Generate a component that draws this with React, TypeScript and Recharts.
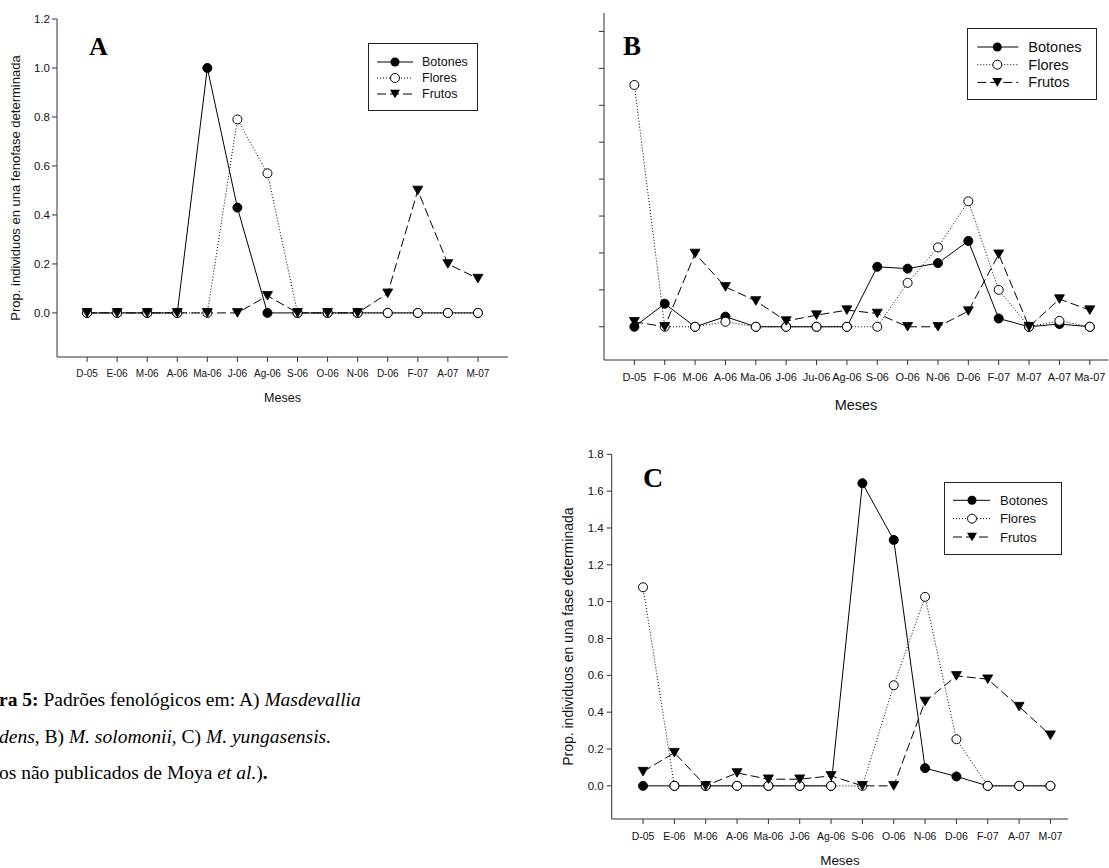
import React from 'react';
import { LineChart, Line, XAxis, YAxis, Legend } from 'recharts';

// Panel A - M. ... (fenofase)
const mesesA = ['D-05', 'E-06', 'M-06', 'A-06', 'Ma-06', 'J-06', 'Ag-06', 'S-06', 'O-06', 'N-06', 'D-06', 'F-07', 'A-07', 'M-07'];
const botonesA = [0, 0, 0, 0, 1.0, 0.43, 0, 0, 0, 0, 0, 0, 0, 0];
const floresA = [0, 0, 0, 0, 0, 0.79, 0.57, 0, 0, 0, 0, 0, 0, 0];
const frutosA = [0, 0, 0, 0, 0, 0, 0.07, 0, 0, 0, 0.08, 0.5, 0.2, 0.14];
const ticksA = [0, 0.2, 0.4, 0.6, 0.8, 1.0, 1.2];

// Panel B - M. solomonii
const mesesB = ['D-05', 'F-06', 'M-06', 'A-06', 'Ma-06', 'J-06', 'Ju-06', 'Ag-06', 'S-06', 'O-06', 'N-06', 'D-06', 'F-07', 'M-07', 'A-07', 'Ma-07'];
const botonesB = [0, 0.125, 0, 0.055, 0, 0, 0, 0, 0.325, 0.315, 0.345, 0.465, 0.045, 0, 0.015, 0];
const floresB = [1.31, 0, 0, 0.027, 0, 0, 0, 0, 0, 0.238, 0.43, 0.68, 0.2, 0, 0.032, 0];
const frutosB = [0.027, 0, 0.397, 0.216, 0.14, 0.031, 0.063, 0.09, 0.072, 0, 0, 0.085, 0.393, 0, 0.15, 0.09];
const ticksB = [0, 0.2, 0.4, 0.6, 0.8, 1.0, 1.2, 1.4, 1.6];

// Panel C - M. yungasensis
const mesesC = ['D-05', 'E-06', 'M-06', 'A-06', 'Ma-06', 'J-06', 'Ag-06', 'S-06', 'O-06', 'N-06', 'D-06', 'F-07', 'A-07', 'M-07'];
const botonesC = [0, 0, 0, 0, 0, 0, 0, 1.643, 1.335, 0.096, 0.051, 0, 0, 0];
const floresC = [1.078, 0, 0, 0, 0, 0, 0, 0, 0.546, 1.026, 0.253, 0, 0, 0];
const frutosC = [0.077, 0.18, 0, 0.07, 0.036, 0.036, 0.054, 0, 0, 0.458, 0.597, 0.579, 0.43, 0.275];
const ticksC = [0, 0.2, 0.4, 0.6, 0.8, 1.0, 1.2, 1.4, 1.6, 1.8];

const SANS = '"Liberation Sans", Arial, sans-serif';
const SERIF = '"Liberation Serif", "Times New Roman", serif';
const INK = '#111';

const buildData = (meses: string[], b: number[], f: number[], fr: number[]) =>
  meses.map((m, i) => ({ x: i + 1, mes: m, botones: b[i], flores: f[i], frutos: fr[i] }));

const tri = (cx: number, cy: number) => `M${cx - 5},${cy - 4.3}L${cx + 5},${cy - 4.3}L${cx},${cy + 4.3}Z`;

const filledDot = (p: any) =>
  p.cx == null ? null : <circle key={`b-${p.index}`} cx={p.cx} cy={p.cy} r={4.5} fill="#000" stroke="#000" strokeWidth={1} />;
const openDot = (p: any) =>
  p.cx == null ? null : <circle key={`f-${p.index}`} cx={p.cx} cy={p.cy} r={4.5} fill="#fff" stroke="#000" strokeWidth={1} />;
const triDot = (p: any) =>
  p.cx == null ? null : <path key={`t-${p.index}`} d={tri(p.cx, p.cy)} fill="#000" stroke="#000" strokeWidth={0.8} />;

const series = [
  { key: 'botones', name: 'Botones', dash: undefined, dot: filledDot },
  { key: 'flores', name: 'Flores', dash: '1 2', dot: openDot },
  { key: 'frutos', name: 'Frutos', dash: '9 4', dot: triDot },
];

type LegendCfg = {
  left: number; top: number; w: number; h: number;
  rows: number[]; x1: number; x2: number; mx: number; tx: number; fontSize: number;
};

const legendBox = (c: LegendCfg) => () => (
  <svg width={c.w} height={c.h} style={{ display: 'block' }}>
    <rect x={0.5} y={0.5} width={c.w - 1} height={c.h - 1} fill="#fff" stroke="#222" strokeWidth={1} />
    {series.map((s, i) => {
      const y = c.rows[i];
      return (
        <g key={s.key}>
          <line x1={c.x1} x2={c.x2} y1={y} y2={y} stroke="#000" strokeWidth={1} strokeDasharray={s.dash} />
          {s.key === 'botones' && <circle cx={c.mx} cy={y} r={4.5} fill="#000" />}
          {s.key === 'flores' && <circle cx={c.mx} cy={y} r={4.5} fill="#fff" stroke="#000" />}
          {s.key === 'frutos' && <path d={tri(c.mx, y)} fill="#000" />}
          <text x={c.tx} y={y} dominantBaseline="central" fontSize={c.fontSize} fontFamily={SANS} fill={INK}>
            {s.name}
          </text>
        </g>
      );
    })}
  </svg>
);

type PanelProps = {
  data: any[];
  meses: string[];
  left: number; top: number; width: number; height: number;
  margin: { top: number; right: number; bottom: number; left: number };
  yAxisWidth: number; xAxisHeight: number;
  yDomain: [number, number]; yTicks: number[]; showYTickLabels: boolean;
  xMax: number;
  yLabel?: string; yLabelOffset?: number; yLabelSize?: number;
  xTickSize: number; xTickMargin: number; yTickSize: number; yTickMargin: number;
  mesesSize: number; mesesOffset: number;
  legend: LegendCfg;
};

const Panel = (p: PanelProps) => (
  <div style={{ position: 'absolute', left: p.left, top: p.top }}>
    <LineChart width={p.width} height={p.height} data={p.data} margin={p.margin}>
      <XAxis
        type="number"
        dataKey="x"
        domain={[0, p.xMax]}
        ticks={p.meses.map((_, i) => i + 1)}
        tickFormatter={(v: number) => p.meses[v - 1]}
        interval={0}
        allowDataOverflow
        height={p.xAxisHeight}
        tickSize={5}
        tickMargin={p.xTickMargin}
        stroke="#333"
        tick={{ fontSize: p.xTickSize, fontFamily: SANS, fill: INK }}
        label={{ value: 'Meses', position: 'insideBottom', offset: p.mesesOffset, style: { fontSize: p.mesesSize, fontFamily: SANS, fill: INK } }}
      />
      <YAxis
        type="number"
        domain={p.yDomain}
        ticks={p.yTicks}
        allowDataOverflow
        width={p.yAxisWidth}
        tickSize={5}
        tickMargin={p.yTickMargin}
        stroke="#333"
        tickFormatter={(v: number) => (p.showYTickLabels ? v.toFixed(1) : '')}
        tick={{ fontSize: p.yTickSize, fontFamily: SANS, fill: INK }}
        label={
          p.yLabel
            ? { value: p.yLabel, angle: -90, position: 'insideLeft', offset: p.yLabelOffset, style: { textAnchor: 'middle', fontSize: p.yLabelSize, fontFamily: SANS, fill: INK } }
            : undefined
        }
      />
      <Legend
        layout="vertical"
        align="center"
        verticalAlign="middle"
        content={legendBox(p.legend)}
        wrapperStyle={{ left: p.legend.left, top: p.legend.top, width: p.legend.w, height: p.legend.h }}
      />
      {series.map((s) => (
        <Line
          key={s.key}
          type="linear"
          dataKey={s.key}
          name={s.name}
          stroke="#000"
          strokeWidth={1}
          strokeDasharray={s.dash}
          dot={s.dot}
          activeDot={false}
          isAnimationActive={false}
        />
      ))}
    </LineChart>
  </div>
);

const App: React.FC = () => (
  <div style={{ position: 'absolute', left: 0, top: 0, width: 1109, height: 868, overflow: 'hidden', background: '#fff' }}>
    <Panel
      data={buildData(mesesA, botonesA, floresA, frutosA)}
      meses={mesesA}
      left={0} top={0} width={560} height={420}
      margin={{ top: 19, right: 52, bottom: 0, left: 5 }}
      yAxisWidth={52} xAxisHeight={63}
      yDomain={[-0.18, 1.2]} yTicks={ticksA} showYTickLabels
      xMax={15}
      yLabel="Prop. individuos en una fenofase determinada" yLabelOffset={10} yLabelSize={13}
      xTickSize={10} xTickMargin={8} yTickSize={11.5} yTickMargin={2}
      mesesSize={12.5} mesesOffset={17.6}
      legend={{ left: 368, top: 43, w: 110, h: 68, rows: [19, 35, 51], x1: 9, x2: 45, mx: 27, tx: 54, fontSize: 12.5 }}
    />
    <Panel
      data={buildData(mesesB, botonesB, floresB, frutosB)}
      meses={mesesB}
      left={560} top={0} width={549} height={420}
      margin={{ top: 13, right: 1, bottom: 0, left: 2 }}
      yAxisWidth={42} xAxisHeight={60}
      yDomain={[-0.18, 1.7]} yTicks={ticksB} showYTickLabels={false}
      xMax={16.6}
      xTickSize={11} xTickMargin={8} yTickSize={11} yTickMargin={2}
      mesesSize={14.5} mesesOffset={9.9}
      legend={{ left: 406.7, top: 28.3, w: 130, h: 72, rows: [19, 36.7, 54.4], x1: 10.3, x2: 51.3, mx: 30.3, tx: 61.3, fontSize: 14.5 }}
    />
    <Panel
      data={buildData(mesesC, botonesC, floresC, frutosC)}
      meses={mesesC}
      left={560} top={420} width={549} height={448}
      margin={{ top: 34.3, right: 40.7, bottom: 0, left: 2 }}
      yAxisWidth={49.7} xAxisHeight={49}
      yDomain={[-0.18, 1.8]} yTicks={ticksC} showYTickLabels
      xMax={14.57}
      yLabel="Prop. individuos en una fase determinada" yLabelOffset={6} yLabelSize={14}
      xTickSize={10.5} xTickMargin={9} yTickSize={11.5} yTickMargin={3}
      mesesSize={13.4} mesesOffset={3}
      legend={{ left: 384, top: 61.7, w: 118, h: 73, rows: [18.3, 36.6, 55], x1: 9, x2: 46, mx: 28, tx: 56, fontSize: 13 }}
    />
    <svg width={1109} height={868} style={{ position: 'absolute', left: 0, top: 0, pointerEvents: 'none' }}>
      <g fontFamily={SERIF} fontWeight="bold" fill="#000">
        <text x={89} y={55} fontSize={26}>A</text>
        <text x={623} y={55} fontSize={27}>B</text>
        <text x={643} y={487} fontSize={28}>C</text>
      </g>
      <g fontFamily={SERIF} fontSize={19.5} fill="#000">
        <text x={-1} y={706}>
          <tspan fontWeight="bold">ra 5:</tspan>{' '}Padrões fenológicos em: A){' '}
          <tspan fontStyle="italic">Masdevallia</tspan>
        </text>
        <text x={-1} y={743}>
          <tspan fontStyle="italic">dens</tspan>, B){' '}
          <tspan fontStyle="italic">M. solomonii</tspan>, C){' '}
          <tspan fontStyle="italic">M. yungasensis.</tspan>
        </text>
        <text x={-1} y={779}>
          os não publicados de Moya{' '}
          <tspan fontStyle="italic">et al.</tspan>)<tspan fontWeight="bold">.</tspan>
        </text>
      </g>
    </svg>
  </div>
);

export default App;
